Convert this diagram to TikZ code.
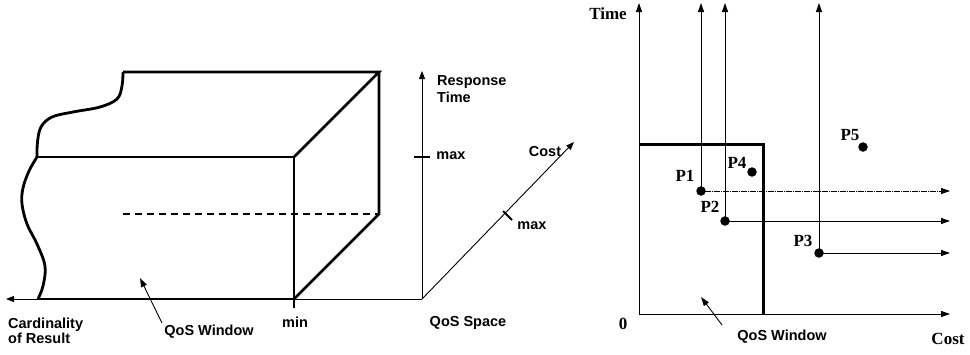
\documentclass[tikz,border=0pt]{standalone}
\usepackage{fontspec}
\setmainfont{Liberation Sans}
\newfontfamily\serifb{Liberation Serif}
\usetikzlibrary{arrows.meta}
\tikzset{
  thin axis/.style={line width=0.9pt},
  thick edge/.style={line width=2.8pt},
  small tip/.style={-{Triangle[length=8pt,width=6pt]}},
  big tip/.style={-{Triangle[length=9pt,width=6pt]}},
  sanslabel/.style={font=\fontsize{14.5}{16}\selectfont\bfseries, inner sep=0pt},
  seriflabel/.style={font=\fontsize{17}{19}\selectfont\serifb\bfseries, inner sep=0pt},
  dot/.style={circle, fill=black, inner sep=0pt, minimum size=9.5pt},
}
\begin{document}
\begin{tikzpicture}[x=1pt,y=-1pt]
\useasboundingbox (0,0) rectangle (970,354);
% ---------- left figure ----------
\coordinate (o) at (422,299);
\coordinate (cardtip) at (6,299);
\coordinate (rttip) at (422,71);
\coordinate (costtip) at (574,142);
\coordinate (fbl) at (294,299);
\coordinate (ftl) at (294,157);
\coordinate (fleft) at (37,157);
\coordinate (btr) at (379,72);
\coordinate (bbr) at (379,214);
\coordinate (btl) at (123,72);
\coordinate (dl) at (123,214);
\coordinate (mintick) at (294,308);
\coordinate (botl) at (40,299);
\coordinate (rtk1) at (414,157);
\coordinate (rtk2) at (430,157);
\coordinate (ctk1) at (503,211);
\coordinate (ctk2) at (512,220);

% axes
\draw[thin axis, small tip] (o) -- (cardtip);
\draw[thin axis, small tip] (o) -- (rttip);
\draw[thin axis, small tip] (o) -- (costtip);
\draw[line width=2pt] (rtk1) -- (rtk2);
\draw[line width=2pt] (ctk1) -- (ctk2);

% box
\draw[thick edge] (botl) -- (fbl);
\draw[thick edge] (mintick) -- (ftl) -- (fleft);
\draw[thick edge] (ftl) -- (btr) -- (btl);
\draw[thick edge] (btr) -- (bbr) -- (fbl);
\draw[line width=2.3pt, dash pattern=on 7pt off 5pt] (dl) -- (bbr);
\draw[thick edge] plot[smooth, tension=0.6] coordinates {(btl) (122,86) (117,99) (100,107) (73,112) (52,117) (41,127) (37.5,142) (fleft)};
\draw[thick edge] plot[smooth, tension=0.6] coordinates {(fleft) (29,171) (23,188) (22,204) (27,224) (37,244) (45,266) (43,286) (38,299)};

% labels
\node[sanslabel, align=left, anchor=north west, font=\fontsize{14.5}{13.5}\selectfont\bfseries] (card) at (8,318) {Cardinality\\of Result};
\node[sanslabel] (qw1) at (209,332) {QoS Window};
\coordinate (qw1tail) at (162,323);
\coordinate (qw1tip) at (140,278);
\draw[thin axis, -{Triangle[length=9pt,width=6pt]}] (qw1tail) -- (qw1tip);
\node[sanslabel] (minl) at (295,322) {min};
\node[sanslabel, align=left, anchor=north west, font=\fontsize{14.5}{17}\selectfont\bfseries] (rt) at (437,75) {Response\\Time};
\node[sanslabel] (max1) at (451,156) {max};
\node[sanslabel] (max2) at (532,226) {max};
\node[sanslabel] (costl) at (545,152) {Cost};
\node[sanslabel] (qs) at (468,323) {QoS Space};

% ---------- right figure ----------
\coordinate (o2) at (639,314);
\coordinate (ytip) at (639,3);
\coordinate (xtip) at (950,314);
\coordinate (wtl) at (639,144);
\coordinate (wtr) at (763,144);
\coordinate (wbr) at (763,315.3);
\draw[thin axis, big tip] (o2) -- (ytip);
\draw[thin axis, big tip] (o2) -- (xtip);
\draw[line width=3pt] (wtl) -- (wtr) -- (wbr);

\node[dot] (p1) at (701,191) {};
\node[dot] (p2) at (725,221) {};
\node[dot] (p3) at (819,253) {};
\node[dot] (p4) at (752,172) {};
\node[dot] (p5) at (863,147) {};
\coordinate (p1up) at (701,3);
\coordinate (p2up) at (725,3);
\coordinate (p3up) at (819,3);
\coordinate (p1r) at (950,191);
\coordinate (p2r) at (950,221);
\coordinate (p3r) at (950,253);
\draw[thin axis, big tip] (p1.center) -- (p1up);
\draw[thin axis, big tip] (p2.center) -- (p2up);
\draw[thin axis, big tip] (p3.center) -- (p3up);
\draw[line width=0.8pt, dash pattern=on 1.3pt off 0.5pt, -{Triangle[length=9pt,width=6pt]}] (p1.center) -- (p1r);
\draw[thin axis, big tip] (p2.center) -- (p2r);
\draw[thin axis, big tip] (p3.center) -- (p3r);

\node[seriflabel] (l1) at (685,176) {P1};
\node[seriflabel] (l2) at (710,207) {P2};
\node[seriflabel] (l3) at (803,241) {P3};
\node[seriflabel] (l4) at (737,163) {P4};
\node[seriflabel] (l5) at (850,135) {P5};
\node[seriflabel] (timel) at (608,14) {Time};
\node[seriflabel] (costr) at (948,339) {Cost};
\node[seriflabel] (zero) at (623,324) {0};
\node[sanslabel] (qw2) at (782,337) {QoS Window};
\coordinate (qw2tail) at (722,325);
\coordinate (qw2tip) at (701,297);
\draw[thin axis, -{Triangle[length=9pt,width=6pt]}] (qw2tail) -- (qw2tip);
\end{tikzpicture}
\end{document}
